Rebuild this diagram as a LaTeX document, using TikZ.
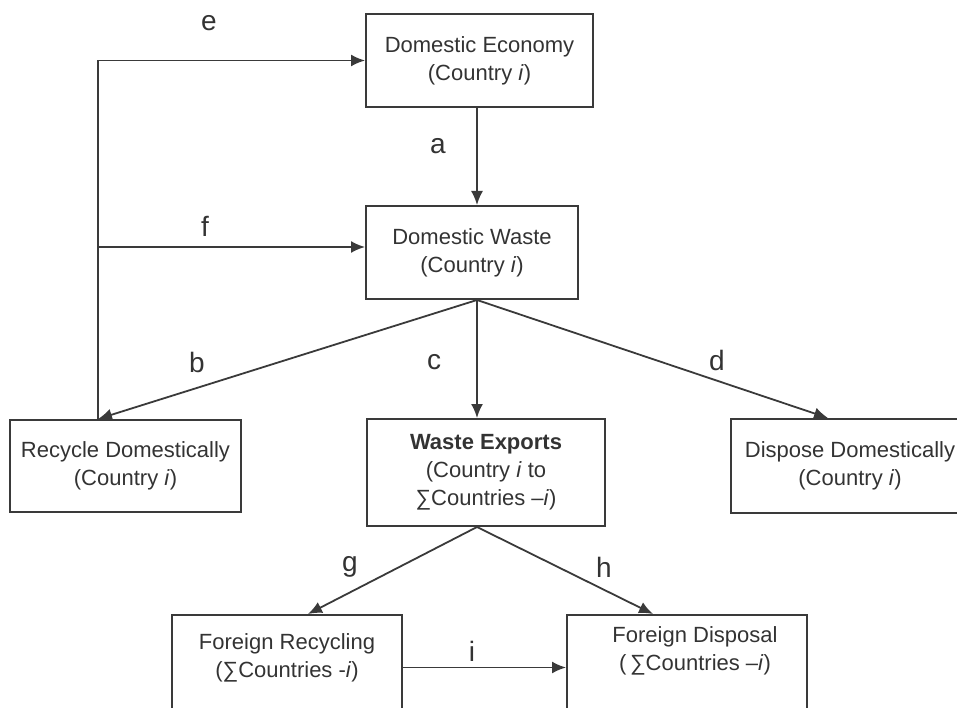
\documentclass[tikz,border=0pt]{standalone}
\usepackage{fontspec}
\setmainfont{Liberation Sans}
\usetikzlibrary{arrows.meta}
\definecolor{linegray}{HTML}{3A3A3A}
\definecolor{textgray}{HTML}{333333}

\begin{document}
\begin{tikzpicture}
            [x=1pt,y=-1pt,
             box/.style = {draw=linegray,line width=2pt,rectangle,align=center,inner sep=2pt,text=textgray,font=\fontsize{22}{28}\selectfont},
             flow/.style = {draw=linegray,line width=1.8pt,-{Latex[length=14pt,width=12pt]}},
             tag/.style = {text=textgray,font=\fontsize{28}{28}\selectfont}]
            \clip (0,0) rectangle (957,708);
            \node[box,minimum width=227,minimum height=93] (Economy) at (479.5,60.5) {Domestic Economy\\(Country \textit{i})};
            \node[box,minimum width=212,minimum height=93] (Waste) at (472,252.5) {Domestic Waste\\(Country \textit{i})};
            \node[box,minimum width=231,minimum height=92] (RecycleDom) at (125.5,466) {Recycle Domestically\\(Country \textit{i})};
            \node[box,minimum width=238,minimum height=107] (Exports) at (486,472.5) {\textbf{Waste Exports}\\(Country \textit{i} to\\∑Countries –\textit{i})};
            \node[box,minimum width=238,minimum height=94] (DisposeDom) at (850,466) {Dispose Domestically\\(Country \textit{i})};
            \node[box,minimum width=230,minimum height=105,text depth=24pt] (ForeignRecycle) at (287,667.5) {Foreign Recycling\\(∑Countries -\textit{i})};
            \node[box,minimum width=240,minimum height=105,text depth=38pt] (ForeignDispose) at (687,667.5) {\hspace*{16pt}Foreign Disposal\\\hspace*{16pt}(\,∑Countries –\textit{i})};

            \coordinate (Loop) at (98,247);
            \coordinate (WasteOut) at ([xshift=5]Waste.south);
            \coordinate (ExportsOut) at (Exports.south -| WasteOut);

            \draw[flow] (Loop |- RecycleDom.north) |- (Economy.west);
            \draw[flow] (Loop) -- (Loop -| Waste.west);
            \draw[flow] (Economy.south -| WasteOut) -- (Waste.north -| WasteOut);
            \draw[flow] (WasteOut) -- (Loop |- RecycleDom.north);
            \draw[flow] (WasteOut) -- (WasteOut |- Exports.north);
            \draw[flow] (WasteOut) -- ([xshift=-22]DisposeDom.north);
            \draw[flow] (ExportsOut) -- ([xshift=21]ForeignRecycle.north);
            \draw[flow] (ExportsOut) -- ([xshift=-34]ForeignDispose.north);
            \draw[flow] (ForeignRecycle.east) -- (ForeignDispose.west);

            \node[tag] (LabelE) at (209,23) {e};
            \node[tag] (LabelA) at (438,146) {a};
            \node[tag] (LabelF) at (205,226) {f};
            \node[tag] (LabelB) at (197,362) {b};
            \node[tag] (LabelC) at (434,362) {c};
            \node[tag] (LabelD) at (717,360) {d};
            \node[tag] (LabelG) at (350,567) {g};
            \node[tag] (LabelH) at (604,567) {h};
            \node[tag] (LabelI) at (472,651) {i};
        \end{tikzpicture}
\end{document}
